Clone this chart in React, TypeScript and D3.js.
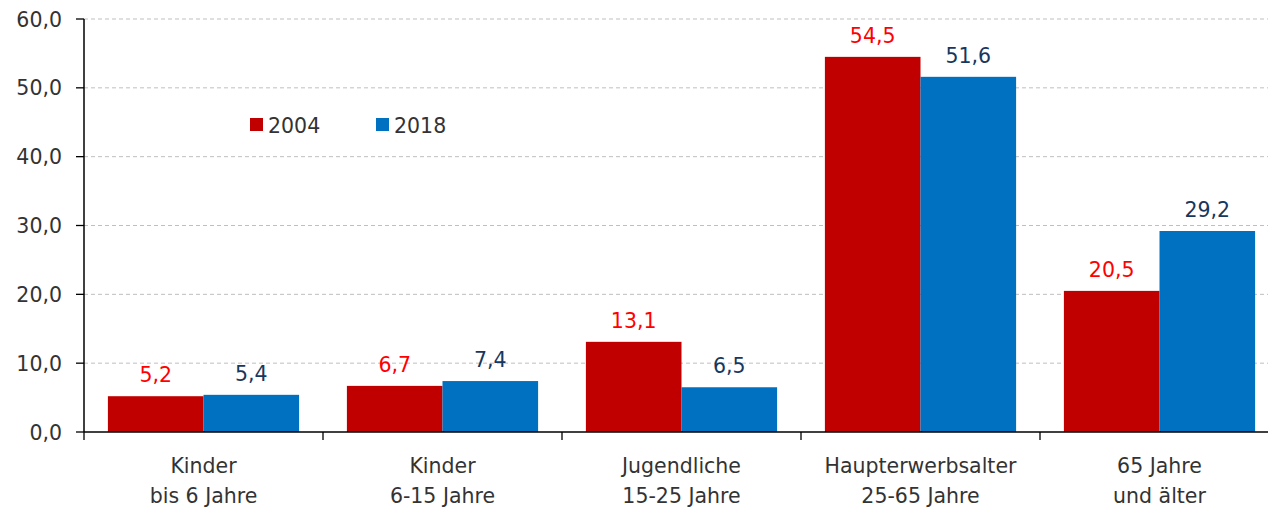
import React from "react";
import * as d3 from "d3";

const categories = [
  ["Kinder", "bis 6 Jahre"],
  ["Kinder", "6-15 Jahre"],
  ["Jugendliche", "15-25 Jahre"],
  ["Haupterwerbsalter", "25-65 Jahre"],
  ["65 Jahre", "und älter"],
];
const seriesNames = ["2004", "2018"];
const values2004 = [5.2, 6.7, 13.1, 54.5, 20.5];
const values2018 = [5.4, 7.4, 6.5, 51.6, 29.2];
const yTicks = [0, 10, 20, 30, 40, 50, 60];

const W = 1268;
const H = 508;
const FONT = "'DejaVu Sans', Verdana, sans-serif";
const FS = 20.5;
const fill = ["#C00000", "#0070C0"];
const labelColor = ["#FF0000", "#17375E"];
const fmt = (v: number) => v.toFixed(1).replace(".", ",");

export default function App() {
  const left = 84;
  const right = 1279;
  const top = 19;
  const bottom = 432;
  const x = d3
    .scaleBand<number>()
    .domain(categories.map((_, i) => i))
    .range([left, right])
    .paddingInner(0)
    .paddingOuter(0);
  const inner = d3
    .scaleBand<number>()
    .domain([0, 1])
    .range([0, x.bandwidth()])
    .paddingOuter(0.25)
    .paddingInner(0);
  const y = d3.scaleLinear().domain([0, 60]).range([bottom, top]);
  const series = [values2004, values2018];
  const bw = x.bandwidth();

  return (
    <svg
      width={W}
      height={H}
      style={{ position: "absolute", left: 0, top: 0, background: "#fff" }}
      fontFamily={FONT}
    >
      {yTicks.map((t) => (
        <g key={t}>
          {t > 0 && (
            <line
              x1={left}
              x2={W}
              y1={y(t)}
              y2={y(t)}
              stroke="#BFBFBF"
              strokeWidth={1}
              strokeDasharray="4,3"
            />
          )}
          <line x1={left - 8} x2={left} y1={y(t)} y2={y(t)} stroke="#000" strokeWidth={1.3} />
          <text x={62} y={y(t) + 7.5} textAnchor="end" fontSize={FS} fill="#333">
            {fmt(t)}
          </text>
        </g>
      ))}
      {categories.map((_, i) =>
        series.map((vals, s) => {
          const bx = (x(i) as number) + (inner(s) as number);
          const v = vals[i];
          return (
            <g key={`${i}-${s}`}>
              <rect
                x={bx}
                y={y(v)}
                width={inner.bandwidth()}
                height={bottom - y(v)}
                fill={fill[s]}
              />
              <text
                x={bx + inner.bandwidth() / 2}
                y={y(v) - 14}
                textAnchor="middle"
                fontSize={FS}
                fill={labelColor[s]}
              >
                {fmt(v)}
              </text>
            </g>
          );
        })
      )}
      <line x1={left} x2={left} y1={top} y2={bottom} stroke="#000" strokeWidth={1.5} />
      <line x1={left} x2={W} y1={bottom} y2={bottom} stroke="#000" strokeWidth={1.5} />
      {d3.range(categories.length + 1).map((i) => (
        <line
          key={i}
          x1={left + i * bw}
          x2={left + i * bw}
          y1={bottom}
          y2={bottom + 8}
          stroke="#000"
          strokeWidth={1.3}
        />
      ))}
      {categories.map((lines, i) => (
        <text key={i} textAnchor="middle" fontSize={FS} fill="#333">
          {lines.map((l, k) => (
            <tspan key={k} x={(x(i) as number) + bw / 2} y={473 + k * 29.5}>
              {l}
            </tspan>
          ))}
        </text>
      ))}
      {seriesNames.map((n, s) => (
        <g key={n} transform={`translate(${250 + s * 126},118)`}>
          <rect width={13} height={13} fill={fill[s]} />
          <text x={18} y={14.5} fontSize={FS} fill="#333">
            {n}
          </text>
        </g>
      ))}
    </svg>
  );
}
